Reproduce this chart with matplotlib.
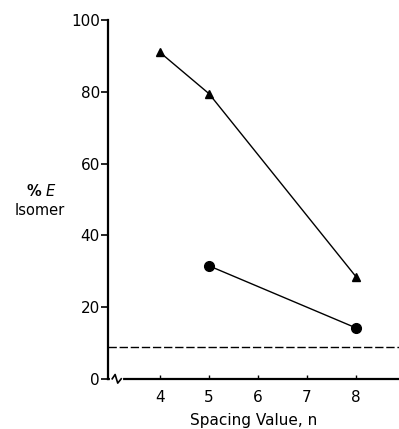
import numpy as np
import matplotlib

matplotlib.use("Agg")
import matplotlib.pyplot as plt

# data
tri_n = [4, 5, 8]
tri_pct = [91, 79.5, 28.5]
circ_n = [5, 8]
circ_pct = [31.5, 14.2]
baseline_pct = 9.0
x_ticks = [4, 5, 6, 7, 8]
y_ticks = [0, 20, 40, 60, 80, 100]

fig = plt.figure(figsize=(3.99, 4.29), dpi=100)
ax = fig.add_axes([0.271, 0.117, 0.729, 0.836])

ax.plot(tri_n, tri_pct, color="k", lw=1.0, marker="^", ms=6, clip_on=False)
ax.plot(circ_n, circ_pct, color="k", lw=1.0, marker="o", ms=7, clip_on=False)
ax.axhline(baseline_pct, color="k", lw=1.0, ls=(0, (6, 2)))

ax.set_xlim(2.94, 8.88)
ax.set_ylim(0, 100)
ax.set_xticks(x_ticks)
ax.set_yticks(y_ticks)

ax.spines[["top", "right"]].set_visible(False)
ax.spines["left"].set_linewidth(1.6)
ax.spines["bottom"].set_linewidth(1.6)
ax.tick_params(axis="y", direction="out", length=5, width=1.2, labelsize=11, pad=1)
ax.tick_params(axis="x", direction="in", length=3, width=1.0, labelsize=11, pad=8)

ax.set_xlabel("Spacing Value, n", fontsize=11, labelpad=6)
# y label: "% E" over "Isomer"
fig.text(0.105, 0.555, "% $\\mathbf{\\it{E}}$", ha="center", va="center",
         fontsize=10.5, fontweight="bold")
fig.text(0.1, 0.51, "Isomer", ha="center", va="center", fontsize=10.5)

# axis break on x axis
bx0, bx1 = 0.014, 0.045
ax.plot([bx0, bx1], [0, 0], transform=ax.transAxes, color="white",
        lw=3, clip_on=False, zorder=5)
ax.plot([bx0, 0.024, 0.033, 0.045], [0, 0.012, -0.012, 0],
        transform=ax.transAxes, color="k", lw=1.2, clip_on=False, zorder=6)

fig.savefig("out.png", dpi=100)
